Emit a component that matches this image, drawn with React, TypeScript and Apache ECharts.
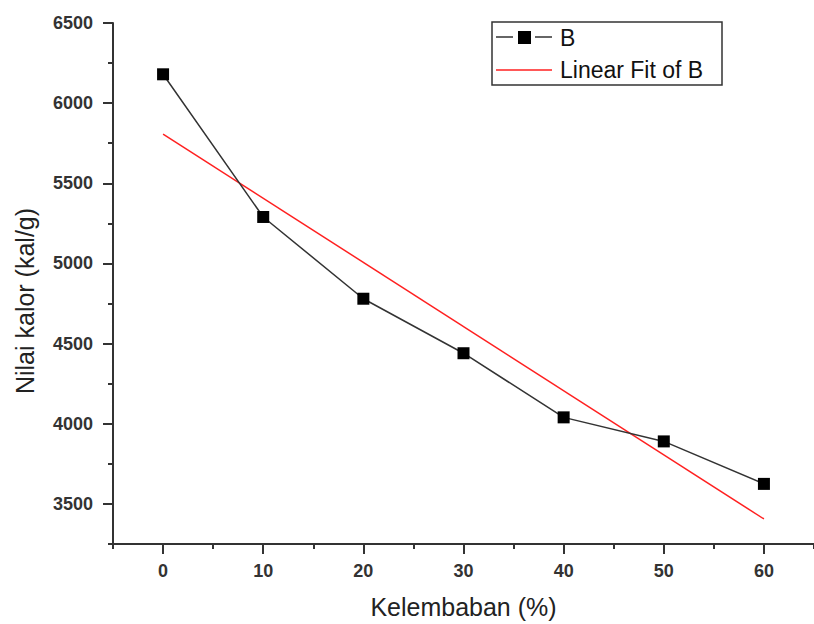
import React, { useEffect, useRef } from "react";
import * as echarts from "echarts";

const xValues = [0, 10, 20, 30, 40, 50, 60];
const yValues = [6180, 5290, 4780, 4440, 4040, 3890, 3625];
const fitX = [0, 60];
const fitY = [5807, 3406];
const yMajorTicks = [3500, 4000, 4500, 5000, 5500, 6000, 6500];
const xMajorTicks = [0, 10, 20, 30, 40, 50, 60];
const seriesName = "B";
const fitName = "Linear Fit of B";
const xTitle = "Kelembaban (%)";
const yTitle = "Nilai kalor (kal/g)";

export default function App() {
  const ref = useRef<HTMLDivElement>(null);
  useEffect(() => {
    document.body.style.margin = "0";
    const chart = echarts.init(ref.current!, null, { renderer: "svg" });
    const axisColor = "#333";
    const font = "Liberation Sans, Arial, sans-serif";
    const labelStyle = {
      color: "#333",
      fontFamily: font,
      fontSize: 18,
      fontWeight: "bold" as const,
      formatter: (v: number) => String(v),
    };
    chart.setOption({
      animation: false,
      grid: { left: 113, top: 23, right: -5, bottom: 77 },
      xAxis: [
        {
          type: "value",
          min: -5,
          max: 65,
          interval: 5,
          axisLine: { show: true, onZero: false, lineStyle: { color: axisColor, width: 2 } },
          axisTick: { show: true, length: 5, lineStyle: { color: axisColor, width: 2 } },
          axisLabel: { show: false },
          splitLine: { show: false },
          name: xTitle,
          nameLocation: "middle",
          nameGap: 50,
          nameTextStyle: { color: "#222", fontFamily: font, fontSize: 25 },
        },
        {
          type: "value",
          min: -5,
          max: 65,
          position: "bottom",
          axisLine: { show: false, onZero: false },
          axisTick: {
            show: true,
            length: 10,
            customValues: xMajorTicks,
            lineStyle: { color: axisColor, width: 2 },
          },
          axisLabel: { show: true, customValues: xMajorTicks, margin: 18, ...labelStyle },
          splitLine: { show: false },
        },
      ],
      yAxis: [
        {
          type: "value",
          min: 3250,
          max: 6500,
          interval: 250,
          axisLine: { show: true, onZero: false, lineStyle: { color: axisColor, width: 2 } },
          axisTick: { show: true, length: 5, lineStyle: { color: axisColor, width: 2 } },
          axisLabel: { show: false },
          splitLine: { show: false },
        },
        {
          type: "value",
          min: 3250,
          max: 6500,
          position: "left",
          axisLine: { show: false, onZero: false },
          axisTick: {
            show: true,
            length: 10,
            customValues: yMajorTicks,
            lineStyle: { color: axisColor, width: 2 },
          },
          axisLabel: { show: true, customValues: yMajorTicks, margin: 20, ...labelStyle },
          splitLine: { show: false },
        },
      ],
      series: [
        {
          name: fitName,
          type: "line",
          xAxisIndex: 0,
          yAxisIndex: 0,
          data: fitX.map((x, i) => [x, fitY[i]]),
          showSymbol: false,
          symbol: "none",
          lineStyle: { color: "#ff2020", width: 1.5 },
          z: 2,
        },
        {
          name: seriesName,
          type: "line",
          xAxisIndex: 0,
          yAxisIndex: 0,
          data: xValues.map((x, i) => [x, yValues[i]]),
          symbol: "rect",
          symbolSize: 12,
          itemStyle: { color: "#000" },
          lineStyle: { color: "#333", width: 1.5 },
          z: 3,
        },
      ],
      graphic: [
        {
          type: "text",
          x: 25,
          y: 301,
          rotation: Math.PI / 2,
          style: {
            text: yTitle,
            fill: "#222",
            font: `25px ${font}`,
            align: "center",
            verticalAlign: "middle",
          },
        },
        {
          type: "rect",
          shape: { x: 492, y: 22, width: 230, height: 63 },
          style: { fill: "#fff", stroke: "#333", lineWidth: 1.5 },
          z: 10,
        },
        {
          type: "line",
          shape: { x1: 496, y1: 37, x2: 513, y2: 37 },
          style: { stroke: "#333", lineWidth: 1.5 },
          z: 11,
        },
        {
          type: "line",
          shape: { x1: 535, y1: 37, x2: 552, y2: 37 },
          style: { stroke: "#333", lineWidth: 1.5 },
          z: 11,
        },
        {
          type: "rect",
          shape: { x: 518, y: 31, width: 13, height: 13 },
          style: { fill: "#000" },
          z: 11,
        },
        {
          type: "line",
          shape: { x1: 496, y1: 70, x2: 552, y2: 70 },
          style: { stroke: "#ff2020", lineWidth: 1.5 },
          z: 11,
        },
        {
          type: "text",
          x: 560,
          y: 38,
          style: { text: seriesName, fill: "#111", font: `23px ${font}`, verticalAlign: "middle" },
          z: 11,
        },
        {
          type: "text",
          x: 560,
          y: 70,
          style: { text: fitName, fill: "#111", font: `23px ${font}`, verticalAlign: "middle" },
          z: 11,
        },
      ],
    });
    return () => chart.dispose();
  }, []);
  return <div ref={ref} style={{ width: 814, height: 624 }} />;
}
